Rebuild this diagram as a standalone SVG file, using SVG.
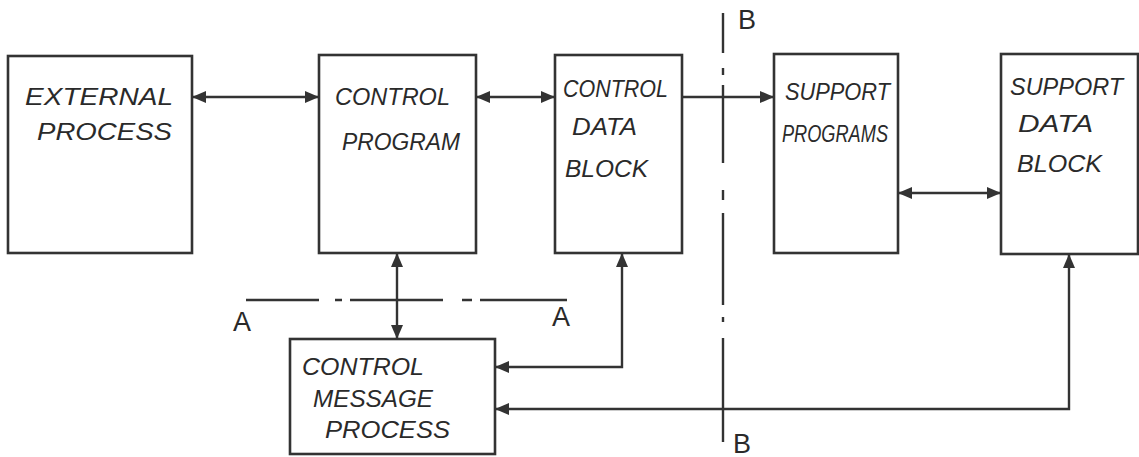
<svg xmlns="http://www.w3.org/2000/svg" width="1139" height="457" viewBox="0 0 1139 457">
<style>
.box{fill:#fff;stroke:#333;stroke-width:2.6}
.lbl{font-family:"Liberation Sans",Arial,sans-serif;font-size:23px;fill:#2a2a2a;font-style:italic}
.sec{font-family:"Liberation Sans",Arial,sans-serif;font-size:27px;fill:#2a2a2a}
.con{fill:none;stroke:#333;stroke-width:2.4}
.cut{fill:none;stroke:#333;stroke-width:2.4}
</style>
<defs>
<marker id="ah" viewBox="0 0 14 12" refX="14" refY="6" markerWidth="14" markerHeight="12" markerUnits="userSpaceOnUse" orient="auto-start-reverse">
<path d="M0,0 L14,6 L0,12 Z" fill="#333"/>
</marker>
</defs>
<rect width="1139" height="457" fill="#fff"/>
<g id="external-process">
<rect class="box" x="8" y="56" width="184" height="197"/>
<text class="lbl" x="25" y="105" textLength="148" lengthAdjust="spacingAndGlyphs">EXTERNAL</text>
<text class="lbl" x="37" y="140" textLength="135" lengthAdjust="spacingAndGlyphs">PROCESS</text>
</g>
<g id="control-program">
<rect class="box" x="319" y="55" width="157" height="198"/>
<text class="lbl" x="335" y="105" textLength="115" lengthAdjust="spacingAndGlyphs">CONTROL</text>
<text class="lbl" x="342" y="150" textLength="118" lengthAdjust="spacingAndGlyphs">PROGRAM</text>
</g>
<g id="control-data-block">
<rect class="box" x="555" y="55" width="127" height="198"/>
<text class="lbl" x="563" y="97" textLength="105" lengthAdjust="spacingAndGlyphs">CONTROL</text>
<text class="lbl" x="572" y="135" textLength="65" lengthAdjust="spacingAndGlyphs">DATA</text>
<text class="lbl" x="565" y="177" textLength="83" lengthAdjust="spacingAndGlyphs">BLOCK</text>
</g>
<g id="support-programs">
<rect class="box" x="774" y="54" width="124" height="199"/>
<text class="lbl" x="785" y="100" textLength="105" lengthAdjust="spacingAndGlyphs">SUPPORT</text>
<text class="lbl" x="782" y="142" textLength="106" lengthAdjust="spacingAndGlyphs">PROGRAMS</text>
</g>
<g id="support-data-block">
<rect class="box" x="1001" y="54" width="137" height="200"/>
<text class="lbl" x="1010" y="95" textLength="113" lengthAdjust="spacingAndGlyphs">SUPPORT</text>
<text class="lbl" x="1018" y="132" textLength="75" lengthAdjust="spacingAndGlyphs">DATA</text>
<text class="lbl" x="1017" y="172" textLength="85" lengthAdjust="spacingAndGlyphs">BLOCK</text>
</g>
<g id="control-message-process">
<rect class="box" x="290" y="339" width="205" height="115"/>
<text class="lbl" x="302" y="375" textLength="122" lengthAdjust="spacingAndGlyphs">CONTROL</text>
<text class="lbl" x="313" y="407" textLength="120" lengthAdjust="spacingAndGlyphs">MESSAGE</text>
<text class="lbl" x="325" y="438" textLength="125" lengthAdjust="spacingAndGlyphs">PROCESS</text>
</g>
<g id="connectors">
<path class="con" d="M192,97 H319" marker-start="url(#ah)" marker-end="url(#ah)"/>
<path class="con" d="M476,97 H555" marker-start="url(#ah)" marker-end="url(#ah)"/>
<path class="con" d="M682,97 H774" marker-end="url(#ah)"/>
<path class="con" d="M898,193 H1001" marker-start="url(#ah)" marker-end="url(#ah)"/>
<path class="con" d="M397,253 V339" marker-start="url(#ah)" marker-end="url(#ah)"/>
<path class="con" d="M622,253 V367 H495" marker-start="url(#ah)" marker-end="url(#ah)"/>
<path class="con" d="M1069,254 V409 H495" marker-start="url(#ah)" marker-end="url(#ah)"/>
</g>
<g id="section-a">
<path class="cut" d="M246,300 H319 M335,300 H342 M350,300 H443 M462,300 H472 M480,300 H567"/>
<text class="sec" x="233" y="331">A</text>
<text class="sec" x="552" y="326">A</text>
</g>
<g id="section-b">
<path class="cut" d="M723,13 V53 M723,68 V75 M723,85 V163 M723,190 V200 M723,213 V305 M723,317 V322 M723,338 V442"/>
<text class="sec" x="738" y="29">B</text>
<text class="sec" x="733" y="453">B</text>
</g>
</svg>
